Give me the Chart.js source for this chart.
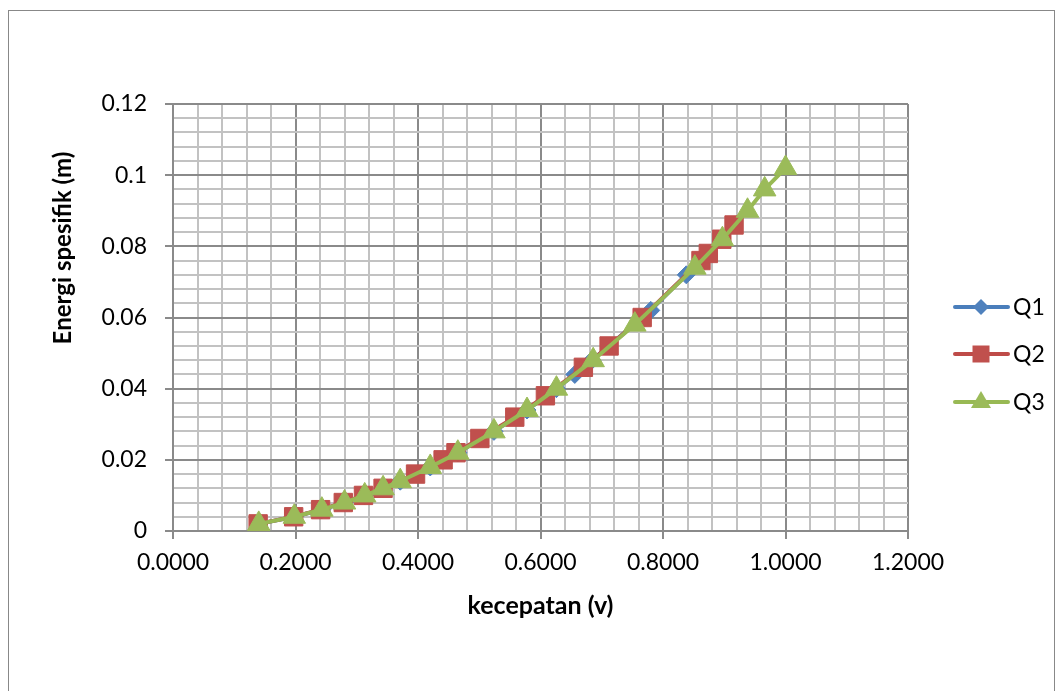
<!DOCTYPE html>
<html>
<head>
<meta charset="utf-8">
<script src="https://cdn.jsdelivr.net/npm/chart.js@4.4.0/dist/chart.umd.min.js"></script>
<style>
  body { margin: 0; background: #fff; }
  #wrap { width: 1062px; height: 691px; }
</style>
</head>
<body>
<div id="wrap"><canvas id="energiChart" width="1062" height="691"></canvas></div>
<script>
// kecepatan (v) vs energi spesifik (m) for three discharges
const q1V = [0.140, 0.198, 0.243, 0.280, 0.313, 0.343, 0.371, 0.420, 0.465, 0.524, 0.578, 0.626, 0.656, 0.684, 0.780, 0.838];
const q1E = [0.002, 0.004, 0.006, 0.008, 0.010, 0.012, 0.014, 0.018, 0.022, 0.028, 0.034, 0.040, 0.044, 0.048, 0.062, 0.072];

const q2V = [0.139, 0.197, 0.241, 0.278, 0.311, 0.343, 0.396, 0.441, 0.462, 0.501, 0.558, 0.608, 0.670, 0.712, 0.766, 0.862, 0.874, 0.896, 0.916];
const q2E = [0.002, 0.004, 0.006, 0.008, 0.010, 0.012, 0.016, 0.020, 0.022, 0.026, 0.032, 0.038, 0.046, 0.052, 0.060, 0.076, 0.078, 0.082, 0.086];

const q3V = [0.140, 0.198, 0.243, 0.280, 0.313, 0.343, 0.371, 0.420, 0.465, 0.524, 0.578, 0.626, 0.686, 0.754, 0.852, 0.897, 0.938, 0.966, 1.000];
const q3E = [0.002, 0.004, 0.006, 0.008, 0.010, 0.012, 0.014, 0.018, 0.022, 0.028, 0.034, 0.040, 0.048, 0.058, 0.074, 0.082, 0.090, 0.096, 0.102];

const seriesNames = ["Q1", "Q2", "Q3"];
const xTitle = "kecepatan (v)";
const yTitle = "Energi spesifik (m)";

const FONT = "Lato, 'Open Sans', sans-serif";
const MAJOR = "#8a8a8a";
const MINOR = "#c2c2c2";

function toPoints(xs, ys) {
    return xs.map((x, i) => ({ x: x, y: ys[i] }));
}

function isMajor(value, step) {
    return Math.round(value / step) % 5 === 0;
}

// outer frame, rotated y title and legend with line + marker swatches
const decorations = {
    id: "decorations",
    afterDraw(chart) {
        const ctx = chart.ctx;
        ctx.save();
        ctx.strokeStyle = "#888";
        ctx.lineWidth = 1;
        ctx.strokeRect(8.5, 10.5, 1046, 700);

        ctx.fillStyle = "#000";
        ctx.font = "bold 24px " + FONT;
        ctx.textAlign = "center";
        ctx.textBaseline = "middle";
        ctx.translate(63, 248);
        ctx.rotate(-Math.PI / 2);
        ctx.fillText(yTitle, 0, 0);
        ctx.restore();

        const rows = [307, 354, 402];
        chart.data.datasets.forEach((ds, i) => {
            const y = rows[i];
            ctx.save();
            ctx.strokeStyle = ds.borderColor;
            ctx.lineWidth = 4;
            ctx.lineCap = "round";
            ctx.beginPath();
            ctx.moveTo(955, y);
            ctx.lineTo(1008, y);
            ctx.stroke();
            ctx.fillStyle = ds.pointBackgroundColor;
            ctx.beginPath();
            const cx = 981;
            if (ds.pointStyle === "rectRot") {
                ctx.moveTo(cx, y - 8);
                ctx.lineTo(cx + 8, y);
                ctx.lineTo(cx, y + 8);
                ctx.lineTo(cx - 8, y);
            } else if (ds.pointStyle === "rect") {
                ctx.rect(cx - 8.5, y - 8.5, 17, 17);
            } else {
                ctx.moveTo(cx, y - 11);
                ctx.lineTo(cx + 10, y + 6);
                ctx.lineTo(cx - 10, y + 6);
            }
            ctx.closePath();
            ctx.fill();
            ctx.fillStyle = "#000";
            ctx.font = "23px " + FONT;
            ctx.textAlign = "left";
            ctx.textBaseline = "middle";
            ctx.fillText(ds.label, 1013, y + 1);
            ctx.restore();
        });
    }
};

const ctx = document.getElementById("energiChart").getContext("2d");
new Chart(ctx, {
    type: "scatter",
    data: {
        datasets: [
            {
                label: seriesNames[0],
                data: toPoints(q1V, q1E),
                showLine: true,
                borderColor: "#4a7ebb",
                borderWidth: 4,
                pointStyle: "rectRot",
                pointRadius: 9,
                pointBackgroundColor: "#4f81bd",
                pointBorderColor: "#4f81bd",
                pointBorderWidth: 1,
                order: 3
            },
            {
                label: seriesNames[1],
                data: toPoints(q2V, q2E),
                showLine: true,
                borderColor: "#be4b48",
                borderWidth: 4,
                pointStyle: "rect",
                pointRadius: 13,
                pointBackgroundColor: "#c0504d",
                pointBorderColor: "#c0504d",
                pointBorderWidth: 1,
                order: 2
            },
            {
                label: seriesNames[2],
                data: toPoints(q3V, q3E),
                showLine: true,
                borderColor: "#98b954",
                borderWidth: 4,
                pointStyle: "triangle",
                pointRadius: 13,
                pointBackgroundColor: "#9bbb59",
                pointBorderColor: "#9bbb59",
                pointBorderWidth: 1,
                order: 1
            }
        ]
    },
    options: {
        responsive: false,
        animation: false,
        layout: { padding: { top: 104, right: 154, bottom: 0, left: 0 } },
        plugins: {
            legend: { display: false },
            tooltip: { enabled: false }
        },
        scales: {
            x: {
                type: "linear",
                min: 0,
                max: 1.2,
                afterFit(scale) { scale.height = 160; },
                ticks: {
                    stepSize: 0.04,
                    autoSkip: false,
                    maxRotation: 0,
                    padding: 10,
                    color: "#000",
                    font: { family: FONT, size: 23 },
                    callback: v => isMajor(v, 0.04) ? v.toFixed(4) : ""
                },
                grid: {
                    color: c => isMajor(c.tick.value, 0.04) ? MAJOR : MINOR,
                    lineWidth: 2,
                    tickLength: 8,
                    tickColor: c => isMajor(c.tick.value, 0.04) ? MAJOR : "rgba(0,0,0,0)"
                },
                border: { color: MAJOR, width: 2 },
                title: {
                    display: true,
                    text: xTitle,
                    color: "#000",
                    font: { family: FONT, size: 25, weight: "bold" },
                    padding: { top: 0, bottom: 70 }
                }
            },
            y: {
                type: "linear",
                min: 0,
                max: 0.12,
                afterFit(scale) { scale.width = 173; },
                ticks: {
                    stepSize: 0.004,
                    autoSkip: false,
                    padding: 18,
                    color: "#000",
                    font: { family: FONT, size: 23 },
                    callback: v => isMajor(v, 0.004) ? String(Number(v.toFixed(2))) : ""
                },
                grid: {
                    color: c => isMajor(c.tick.value, 0.004) ? MAJOR : MINOR,
                    lineWidth: 2,
                    tickLength: 8,
                    tickColor: c => isMajor(c.tick.value, 0.004) ? MAJOR : "rgba(0,0,0,0)"
                },
                border: { color: MAJOR, width: 2 }
            }
        }
    },
    plugins: [decorations]
});
</script>
</body>
</html>
